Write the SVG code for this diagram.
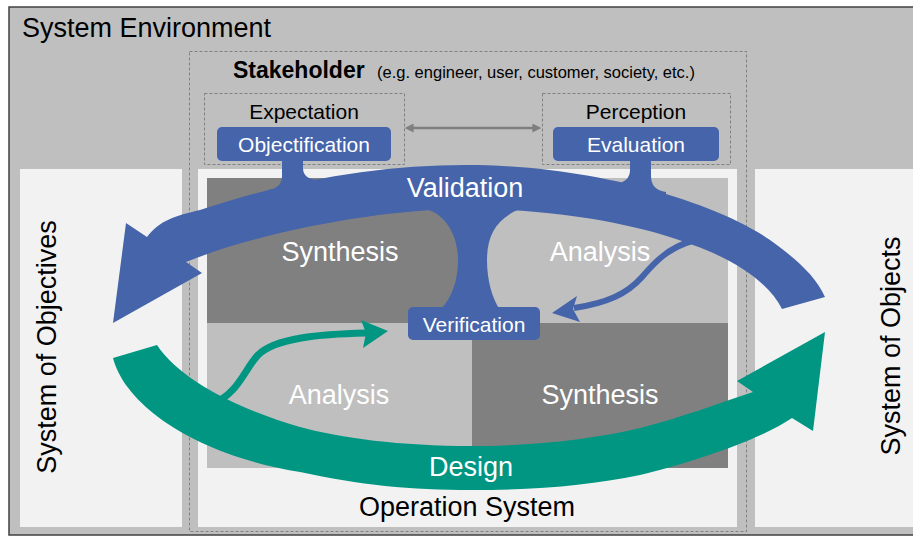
<svg xmlns="http://www.w3.org/2000/svg" width="913" height="536" viewBox="0 0 913 536">
<defs>
<style>
text{font-family:"Liberation Sans",Arial,sans-serif;}
.dash{fill:none;stroke:#808080;stroke-width:1;stroke-dasharray:3 2;}
.panel{fill:#f2f2f2;}
.dark{fill:#808080;}
.light{fill:#bfbfbf;}
.blue{fill:#4664AA;}
.green{fill:#009682;}
.big{font-size:27px;text-anchor:middle;}
.mid{font-size:21px;text-anchor:middle;}
.w{fill:#ffffff;}
.k{fill:#000000;}
</style>
<marker id="ah" viewBox="0 0 10 10" refX="4" refY="5" markerWidth="10" markerHeight="9" markerUnits="userSpaceOnUse" orient="auto-start-reverse">
<path d="M0,0 L10,5 L0,10 Z" fill="#7f7f7f"/>
</marker>
</defs>

<g id="system-environment">
<rect x="9" y="7" width="920" height="528" fill="#bfbfbf" stroke="#404040" stroke-width="1.5"/>
<text x="22" y="37" font-size="27" class="k">System Environment</text>
</g>

<g id="system-of-objectives">
<rect class="panel" x="20" y="169" width="162" height="358"/>
<text class="big k" transform="translate(56,347) rotate(-90)">System of Objectives</text>
</g>

<g id="system-of-objects">
<rect class="panel" x="755" y="169" width="170" height="358"/>
<text class="big k" transform="translate(900,346) rotate(-90)">System of Objects</text>
</g>

<g id="operation-system">
<rect class="panel" x="198" y="169" width="539" height="358"/>
<rect class="dark" x="207" y="178" width="265" height="145"/>
<rect class="light" x="472" y="178" width="256" height="145"/>
<rect class="light" x="207" y="323" width="265" height="145"/>
<rect class="dark" x="472" y="323" width="256" height="145"/>
<text class="big k" x="467" y="516">Operation System</text>
</g>

<g id="stakeholder">
<rect class="dash" x="189.5" y="51.5" width="557" height="480"/>
<text x="233" y="78" class="k"><tspan font-size="23" font-weight="bold">Stakeholder</tspan><tspan x="377" font-size="16.5">(e.g. engineer, user, customer, society, etc.)</tspan></text>
</g>

<g id="expectation">
<rect class="dash" x="204.5" y="93.5" width="200" height="71"/>
<text class="mid k" x="304" y="119">Expectation</text>
</g>

<g id="perception">
<rect class="dash" x="542.5" y="93.5" width="188" height="71"/>
<text class="mid k" x="636" y="119">Perception</text>
</g>

<g id="connectors">
<line x1="410" y1="128" x2="536" y2="128" stroke="#7f7f7f" stroke-width="2.5" marker-start="url(#ah)" marker-end="url(#ah)"/>
<path class="blue" d="M282,158 V176 Q282,188 268,190 L268,198 L320,198 L320,180 Q303,180 303,168 V158 Z"/>
<path class="blue" d="M630,158 V170 Q630,182 615,184 L615,198 L666,198 L666,192 Q651,190 651,176 V158 Z"/>
<path class="blue" d="M425,209 C445,213 458,235 458,260 C458,280 452,298 440,310 L500,310 C492,298 487,280 487,260 C487,235 497,218 520,209 Z"/>
<path class="blue" d="M147,237 C160,220 175,216 200,210 C290,180 380,165 465,165 C600,165 720,205 770,240 C795,258 815,275 825,297 L782,309 C770,285 740,262 693,245 C640,225 560,209 465,209 C380,209 260,232 186,262 L202,273 L113,323 L126,223 Z"/>
<path d="M692,241 C668,248 655,262 642,277 C627,294 607,303 574,308" fill="none" stroke="#4664AA" stroke-width="6"/>
<polygon class="blue" points="552,313 577,296 573,309 580,322"/>
<path class="green" d="M113,358 C125,405 195,455 300,472 C360,485 410,490 472,490 C540,490 590,485 640,475 C690,463 760,440 792,418 L813,431 L825,332 L737,381 L753,392 C720,403 680,418 640,428 C590,440 530,446 472,446 C400,446 340,438 300,427 C240,410 180,380 157,345 Z"/>
<path d="M212,404 C238,394 244,370 258,355 C275,338 320,334 366,333" fill="none" stroke="#009682" stroke-width="7"/>
<polygon class="green" points="388,331 361,320 366,333 363,348"/>
<text class="big w" x="465" y="197">Validation</text>
<text class="big w" x="471" y="476">Design</text>
</g>

<g id="objectification">
<rect class="blue" x="217" y="127" width="174" height="34" rx="5"/>
<text class="mid w" x="304" y="152">Objectification</text>
</g>

<g id="evaluation">
<rect class="blue" x="553" y="127" width="166" height="34" rx="5"/>
<text class="mid w" x="636" y="152">Evaluation</text>
</g>

<g id="verification">
<rect class="blue" x="408" y="307" width="132" height="33" rx="5"/>
<text class="mid w" x="474" y="332">Verification</text>
</g>

<g id="synthesis-top"><text class="big w" x="340" y="261">Synthesis</text></g>
<g id="analysis-top"><text class="big w" x="600" y="261">Analysis</text></g>
<g id="analysis-bottom"><text class="big w" x="339" y="404">Analysis</text></g>
<g id="synthesis-bottom"><text class="big w" x="600" y="404">Synthesis</text></g>
</svg>
